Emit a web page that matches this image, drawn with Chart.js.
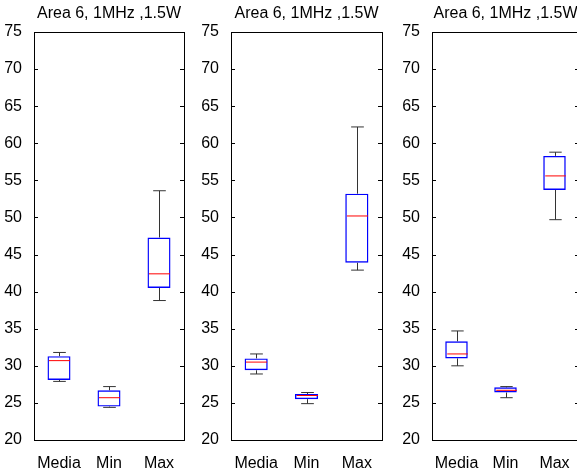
<!DOCTYPE html>
<html>
<head>
<meta charset="utf-8">
<script src="https://cdn.jsdelivr.net/npm/chart.js@4/dist/chart.umd.min.js"></script>
<style>
    body { margin: 0; width: 577px; height: 468px; overflow: hidden; background: #fff; position: relative; }
    canvas { position: absolute; top: 0; }
</style>
</head>
<body>
<canvas id="panel_1" width="190" height="468" style="left:0px"></canvas>
<canvas id="panel_2" width="190" height="468" style="left:197px"></canvas>
<canvas id="panel_3" width="190" height="468" style="left:398px"></canvas>
<script>
const categories = ["Media", "Min", "Max"];
const titleText = "Area 6, 1MHz ,1.5W";
const yMin = 20, yMax = 75, yStep = 5;

// panel 1
const p1Low = [27.9, 24.4, 38.8];
const p1Q1 = [28.1, 24.5, 40.5];
const p1Median = [30.7, 25.7, 42.4];
const p1Q3 = [31.3, 26.7, 47.3];
const p1High = [31.8, 27.2, 53.6];

// panel 2
const p2Low = [28.9, 24.9, 42.9];
const p2Q1 = [29.4, 25.5, 43.9];
const p2Median = [30.5, 26.0, 50.2];
const p2Q3 = [31.0, 26.2, 53.2];
const p2High = [31.6, 26.4, 62.2];

// panel 3
const p3Low = [30.0, 25.7, 49.7];
const p3Q1 = [31.0, 26.4, 53.7];
const p3Median = [31.6, 26.7, 55.6];
const p3Q3 = [33.3, 27.1, 58.3];
const p3High = [34.7, 27.2, 58.8];

Chart.defaults.font.family = "'Liberation Sans', Arial, sans-serif";
Chart.defaults.font.size = 16;
Chart.defaults.color = "#000";

// whiskers and median line on top of the floating bars
const whiskerPlugin = {
    id: "whiskers",
    afterDatasetsDraw: function (chart, args, opts) {
        const ctx = chart.ctx, y = chart.scales.y;
        chart.getDatasetMeta(0).data.forEach(function (bar, i) {
            const cx = Math.round(bar.x) + 0.5, half = bar.width / 2, cap = half * 0.55;
            const yLow = y.getPixelForValue(opts.low[i]), yHigh = y.getPixelForValue(opts.high[i]);
            const yQ1 = y.getPixelForValue(opts.q1[i]), yQ3 = y.getPixelForValue(opts.q3[i]);
            const yMed = y.getPixelForValue(opts.median[i]);
            ctx.save();
            ctx.lineWidth = 1;
            ctx.strokeStyle = "#333";
            ctx.beginPath();
            ctx.moveTo(cx, yQ3); ctx.lineTo(cx, yHigh);
            ctx.moveTo(cx, yQ1); ctx.lineTo(cx, yLow);
            ctx.moveTo(cx - cap, yHigh); ctx.lineTo(cx + cap, yHigh);
            ctx.moveTo(cx - cap, yLow); ctx.lineTo(cx + cap, yLow);
            ctx.stroke();
            ctx.strokeStyle = "#ff0000";
            ctx.beginPath();
            ctx.moveTo(cx - half + 1, yMed); ctx.lineTo(cx + half - 1, yMed);
            ctx.stroke();
            ctx.restore();
        });
    }
};

// box round the axes with inward ticks on both sides, title centred on the axes
const framePlugin = {
    id: "frame",
    afterDraw: function (chart) {
        const ctx = chart.ctx, a = chart.chartArea, y = chart.scales.y;
        ctx.save();
        ctx.strokeStyle = "#000";
        ctx.lineWidth = 1;
        ctx.strokeRect(a.left + 0.5, a.top + 0.5, a.right - a.left, a.bottom - a.top);
        ctx.beginPath();
        y.ticks.forEach(function (t) {
            const py = Math.round(y.getPixelForValue(t.value)) + 0.5;
            ctx.moveTo(a.left, py); ctx.lineTo(a.left + 4, py);
            ctx.moveTo(a.right, py); ctx.lineTo(a.right - 4, py);
        });
        ctx.stroke();
        ctx.fillStyle = "#000";
        ctx.font = "16px 'Liberation Sans', Arial, sans-serif";
        ctx.textAlign = "center";
        ctx.textBaseline = "middle";
        ctx.fillText(titleText, (a.left + a.right) / 2, 14);
        ctx.restore();
    }
};

function drawPanel(id, low, q1, median, q3, high, rightPad) {
    new Chart(document.getElementById(id).getContext("2d"), {
        type: "bar",
        data: {
            labels: categories,
            datasets: [{
                data: q1.map(function (v, i) { return [v, q3[i]]; }),
                backgroundColor: "rgba(0,0,0,0)",
                borderColor: "#0000ff",
                borderWidth: 1.4,
                borderSkipped: false,
                barPercentage: 0.46,
                categoryPercentage: 1
            }]
        },
        options: {
            responsive: false,
            animation: false,
            layout: { padding: { left: 0, right: rightPad, top: 32, bottom: 0 } },
            plugins: {
                legend: { display: false },
                tooltip: { enabled: false },
                title: { display: false },
                whiskers: { low: low, q1: q1, median: median, q3: q3, high: high }
            },
            scales: {
                x: {
                    offset: true,
                    grid: { display: false },
                    border: { display: false },
                    ticks: { padding: 6, maxRotation: 0 },
                    afterFit: function (scale) { scale.height = 28; }
                },
                y: {
                    min: yMin,
                    max: yMax,
                    grid: { display: false },
                    border: { display: false },
                    ticks: { stepSize: yStep, padding: 4 },
                    afterFit: function (scale) { scale.width = 34; }
                }
            }
        },
        plugins: [whiskerPlugin, framePlugin]
    });
}

drawPanel("panel_1", p1Low, p1Q1, p1Median, p1Q3, p1High, 6);
drawPanel("panel_2", p2Low, p2Q1, p2Median, p2Q3, p2High, 5);
drawPanel("panel_3", p3Low, p3Q1, p3Median, p3Q3, p3High, 9);
</script>
</body>
</html>
